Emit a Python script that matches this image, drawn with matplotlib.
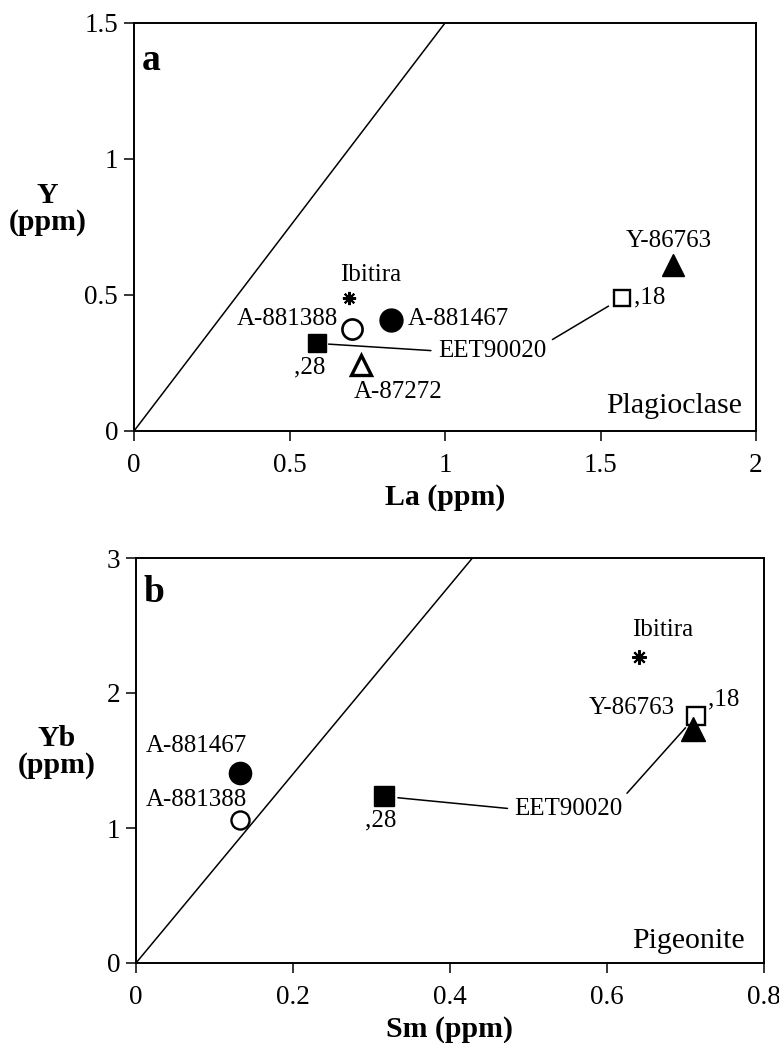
import matplotlib
matplotlib.use("Agg")
import matplotlib.pyplot as plt

plt.rcParams['font.family'] = ['Liberation Serif', 'DejaVu Serif']

# ---------------- data ----------------
# Panel a: Plagioclase, La vs Y (ppm)
a_names = ["Ibitira", "A-881388", "A-881467", "EET90020,28", "A-87272", "EET90020,18", "Y-86763"]
a_La = [0.69, 0.70, 0.826, 0.59, 0.73, 1.568, 1.734]
a_Y = [0.488, 0.375, 0.408, 0.322, 0.243, 0.488, 0.61]

# Panel b: Pigeonite, Sm vs Yb (ppm)
b_names = ["A-881467", "A-881388", "EET90020,28", "Ibitira", "EET90020,18", "Y-86763"]
b_Sm = [0.1325, 0.1325, 0.316, 0.641, 0.713, 0.71]
b_Yb = [1.41, 1.056, 1.234, 2.27, 1.827, 1.73]

# reference lines (chondritic ratio) through origin
a_line_x = [0, 1.0]
a_line_y = [0, 1.5]
b_line_x = [0, 3.0 / 7.0]
b_line_y = [0, 3.0]

a_xticks = [0, 0.5, 1, 1.5, 2]
a_xticklabels = ["0", "0.5", "1", "1.5", "2"]
a_yticks = [0, 0.5, 1, 1.5]
a_yticklabels = ["0", "0.5", "1", "1.5"]
b_xticks = [0, 0.2, 0.4, 0.6, 0.8]
b_xticklabels = ["0", "0.2", "0.4", "0.6", "0.8"]
b_yticks = [0, 1, 2, 3]
b_yticklabels = ["0", "1", "2", "3"]

# ---------------- figure ----------------
fig = plt.figure(figsize=(7.79, 10.43), dpi=100)
W, H = 779, 1043
axa = fig.add_axes([134 / W, 1 - 431 / H, 622 / W, 408 / H])
axb = fig.add_axes([136 / W, 1 - 963 / H, 628 / W, 405 / H])

TICK_FS = 19.5
LAB_FS = 18
AX_FS = 21.5
MIN_FS = 21.5

for ax in (axa, axb):
    for s in ax.spines.values():
        s.set_linewidth(1.4)
    ax.tick_params(direction='out', length=7.5, width=1.1, labelsize=TICK_FS)
    ax.tick_params(axis='x', pad=8)
    ax.tick_params(axis='y', pad=4)

star = (8, 2, 0)

# ---- panel a ----
axa.plot(a_line_x, a_line_y, color='black', lw=1.1, zorder=1)
d = dict(zip(a_names, zip(a_La, a_Y)))
axa.plot(*d["Ibitira"], marker=star, ms=9.5, mew=1.5, color='black', ls='none', zorder=3)
axa.plot(*d["A-881388"], marker='o', ms=14.5, mew=1.9, mfc='white', mec='black', ls='none', zorder=3)
axa.plot(*d["A-881467"], marker='o', ms=16.5, mew=1, mfc='black', mec='black', ls='none', zorder=3)
axa.plot(*d["EET90020,28"], marker='s', ms=12.8, mew=1, mfc='black', mec='black', ls='none', zorder=3)
axa.plot(*d["A-87272"], marker='^', ms=14, mew=2.4, mfc='white', mec='black', ls='none', zorder=3)
axa.plot(*d["EET90020,18"], marker='s', ms=11.8, mew=1.7, mfc='white', mec='black', ls='none', zorder=3)
axa.plot(*d["Y-86763"], marker='^', ms=16, mew=1, mfc='black', mec='black', ls='none', zorder=3)

axa.text(0.76, 0.574, "Ibitira", fontsize=LAB_FS, ha='center', va='center')
axa.text(0.655, 0.41, "A-881388", fontsize=LAB_FS, ha='right', va='center')
axa.text(0.88, 0.41, "A-881467", fontsize=LAB_FS, ha='left', va='center')
axa.text(0.565, 0.235, ",28", fontsize=LAB_FS, ha='center', va='center')
axa.text(0.848, 0.142, "A-87272", fontsize=LAB_FS, ha='center', va='center')
axa.text(1.607, 0.491, ",18", fontsize=LAB_FS, ha='left', va='center')
axa.text(1.72, 0.70, "Y-86763", fontsize=LAB_FS, ha='center', va='center')
lbl = (1.151, 0.294)
axa.annotate("EET90020", xy=d["EET90020,28"], xytext=lbl, fontsize=LAB_FS,
             ha='center', va='center',
             arrowprops=dict(arrowstyle='-', lw=1.1, color='black', relpos=(0, 0.5),
                             shrinkA=3, shrinkB=8))
axa.annotate("EET90020", xy=d["EET90020,18"], xytext=lbl, fontsize=LAB_FS,
             ha='center', va='center', alpha=0,
             arrowprops=dict(arrowstyle='-', lw=1.1, color='black', relpos=(1, 0.85),
                             shrinkA=3, shrinkB=11, alpha=1))
axa.text(0.012, 0.885, "a", transform=axa.transAxes, fontsize=27, fontweight='bold',
         ha='left', va='baseline')
axa.text(0.977, 0.044, "Plagioclase", transform=axa.transAxes, fontsize=MIN_FS,
         ha='right', va='baseline')

axa.set_xlim(0, 2)
axa.set_ylim(0, 1.5)
axa.set_xticks(a_xticks)
axa.set_xticklabels(a_xticklabels)
axa.set_yticks(a_yticks)
axa.set_yticklabels(a_yticklabels)
axa.set_xlabel("La (ppm)", fontsize=AX_FS, fontweight='bold', va='center')
axa.xaxis.set_label_coords(0.5, -0.162)
axa.set_ylabel("Y\n(ppm)", fontsize=AX_FS, fontweight='bold', rotation=0,
               ha='center', va='center', linespacing=1.0)
axa.yaxis.set_label_coords(-0.139, 0.544)

# ---- panel b ----
axb.plot(b_line_x, b_line_y, color='black', lw=1.1, zorder=1)
e = dict(zip(b_names, zip(b_Sm, b_Yb)))
axb.plot(*e["A-881467"], marker='o', ms=16, mew=1, mfc='black', mec='black', ls='none', zorder=3)
axb.plot(*e["A-881388"], marker='o', ms=13, mew=1.7, mfc='white', mec='black', ls='none', zorder=3)
axb.plot(*e["EET90020,28"], marker='s', ms=14, mew=1, mfc='black', mec='black', ls='none', zorder=3)
axb.plot(*e["Ibitira"], marker=star, ms=10.5, mew=1.5, color='black', ls='none', zorder=3)
axb.plot(*e["EET90020,18"], marker='s', ms=12.8, mew=1.7, mfc='white', mec='black', ls='none', zorder=3)
axb.plot(*e["Y-86763"], marker='^', ms=17, mew=1, mfc='black', mec='black', ls='none', zorder=4)

axb.text(0.0764, 1.604, "A-881467", fontsize=LAB_FS, ha='center', va='center')
axb.text(0.0764, 1.21, "A-881388", fontsize=LAB_FS, ha='center', va='center')
axb.text(0.312, 1.056, ",28", fontsize=LAB_FS, ha='center', va='center')
axb.text(0.671, 2.47, "Ibitira", fontsize=LAB_FS, ha='center', va='center')
axb.text(0.687, 1.89, "Y-86763", fontsize=LAB_FS, ha='right', va='center')
axb.text(0.729, 1.95, ",18", fontsize=LAB_FS, ha='left', va='center')
lbl_b = (0.551, 1.14)
axb.annotate("EET90020", xy=e["EET90020,28"], xytext=lbl_b, fontsize=LAB_FS,
             ha='center', va='center',
             arrowprops=dict(arrowstyle='-', lw=1.1, color='black', relpos=(0, 0.5),
                             shrinkA=3, shrinkB=10))
axb.annotate("EET90020", xy=e["EET90020,18"], xytext=lbl_b, fontsize=LAB_FS,
             ha='center', va='center', alpha=0,
             arrowprops=dict(arrowstyle='-', lw=1.1, color='black', relpos=(1, 1),
                             shrinkA=2, shrinkB=11, alpha=1))
axb.text(0.0127, 0.892, "b", transform=axb.transAxes, fontsize=27, fontweight='bold',
         ha='left', va='baseline')
axb.text(0.97, 0.037, "Pigeonite", transform=axb.transAxes, fontsize=MIN_FS,
         ha='right', va='baseline')

axb.set_xlim(0, 0.8)
axb.set_ylim(0, 3)
axb.set_xticks(b_xticks)
axb.set_xticklabels(b_xticklabels)
axb.set_yticks(b_yticks)
axb.set_yticklabels(b_yticklabels)
axb.set_xlabel("Sm (ppm)", fontsize=AX_FS, fontweight='bold', va='center')
axb.xaxis.set_label_coords(0.5, -0.163)
axb.set_ylabel("Yb\n(ppm)", fontsize=AX_FS, fontweight='bold', rotation=0,
               ha='center', va='center', linespacing=1.0)
axb.yaxis.set_label_coords(-0.126, 0.521)

fig.savefig("out.png", dpi=100)
